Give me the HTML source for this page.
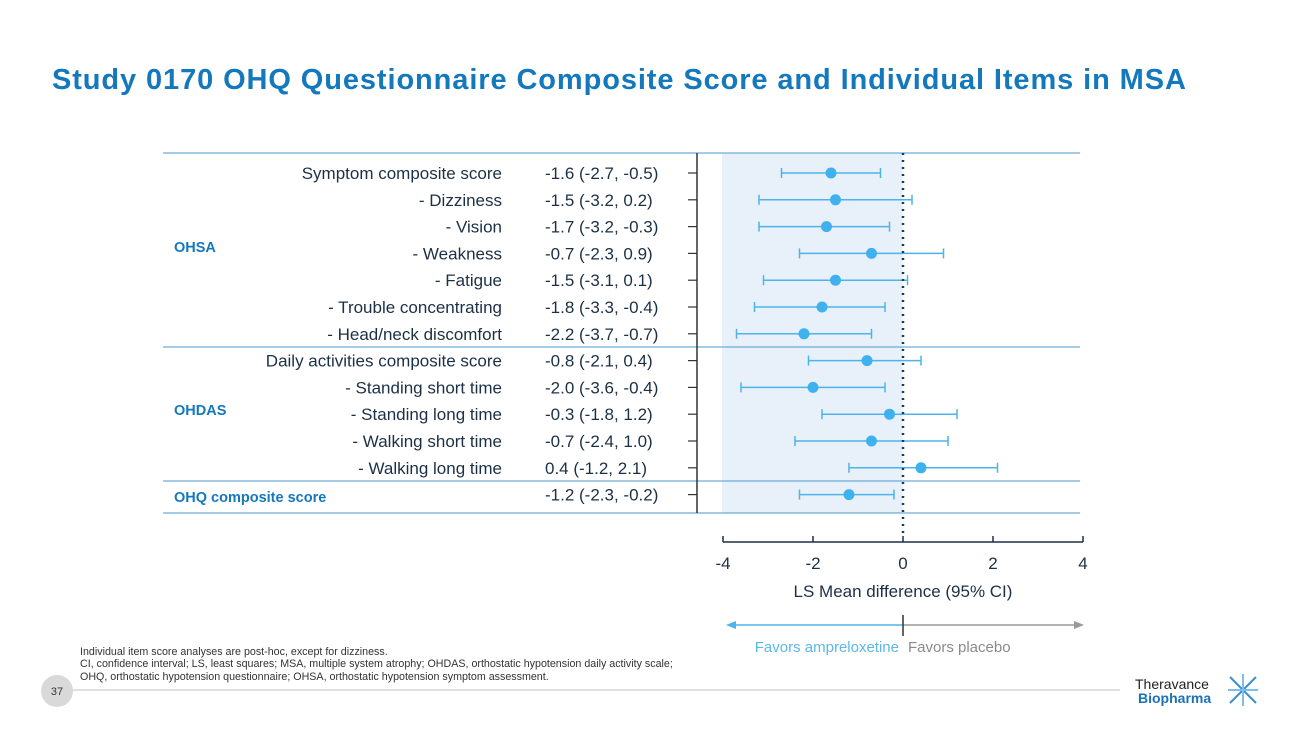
<!DOCTYPE html>
<html><head><meta charset="utf-8"><style>
body{margin:0;width:1300px;height:731px;background:#fff;font-family:"Liberation Sans",sans-serif;overflow:hidden}
svg{position:absolute;left:0;top:0}
</style></head><body>
<svg id="s" width="1300" height="731">
<text x="52" y="89" font-size="29" font-weight="bold" letter-spacing="0.9" fill="#1478bd">Study 0170 OHQ Questionnaire Composite Score and Individual Items in MSA</text>
<rect x="722" y="153" width="181" height="360" fill="#e8f1fa"/>
<g id="rows"></g>
<line x1="697" y1="153" x2="697" y2="513" stroke="#333" stroke-width="1.5"/>
<line x1="903" y1="153" x2="903" y2="537" stroke="#1c3a50" stroke-width="2.5" stroke-dasharray="2,5"/>
<g id="axis"></g>
<text x="903" y="597" font-size="17" fill="#1c3045" text-anchor="middle">LS Mean difference (95% CI)</text>
<line x1="730" y1="625" x2="903" y2="625" stroke="#4db3ea" stroke-width="1.5"/>
<polygon points="726,625 736,621 736,629" fill="#4db3ea"/>
<line x1="903" y1="625" x2="1078" y2="625" stroke="#999" stroke-width="1.5"/>
<polygon points="1084,625 1074,621 1074,629" fill="#999"/>
<line x1="903" y1="615" x2="903" y2="636" stroke="#333" stroke-width="1.5"/>
<text x="899" y="652" font-size="15" fill="#5cb8ea" text-anchor="end">Favors ampreloxetine</text>
<text x="908" y="652" font-size="15" fill="#8a8a8a">Favors placebo</text>
<g font-size="10.7" fill="#333">
<text x="80" y="655">Individual item score analyses are post-hoc, except for dizziness.</text>
<text x="80" y="667">CI, confidence interval; LS, least squares; MSA, multiple system atrophy; OHDAS, orthostatic hypotension daily activity scale;</text>
<text x="80" y="680">OHQ, orthostatic hypotension questionnaire; OHSA, orthostatic hypotension symptom assessment.</text>
</g>
<line x1="73" y1="690" x2="1120" y2="690" stroke="#d5d5d5" stroke-width="1.5"/>
<circle cx="57" cy="691" r="16" fill="#d9d9d9"/>
<text x="57" y="695" font-size="11" fill="#333" text-anchor="middle">37</text>
<text x="1135" y="689" font-size="14" fill="#222">Theravance</text>
<text x="1138" y="703" font-size="14" font-weight="bold" fill="#1a72b8">Biopharma</text>
<g stroke="#3b8fd0" stroke-width="2">
<line x1="1230" y1="677" x2="1256" y2="703"/><line x1="1256" y1="677" x2="1230" y2="703"/>
<line x1="1243" y1="674" x2="1243" y2="706" stroke="#7cc0ea"/><line x1="1228" y1="690" x2="1258" y2="690" stroke="#7cc0ea"/>
</g>
</svg>
<script>
const labels=["Symptom composite score","- Dizziness","- Vision","- Weakness","- Fatigue","- Trouble concentrating","- Head/neck discomfort","Daily activities composite score","- Standing short time","- Standing long time","- Walking short time","- Walking long time",""];
const estimates=[-1.6,-1.5,-1.7,-0.7,-1.5,-1.8,-2.2,-0.8,-2.0,-0.3,-0.7,0.4,-1.2];
const lowerCI=[-2.7,-3.2,-3.2,-2.3,-3.1,-3.3,-3.7,-2.1,-3.6,-1.8,-2.4,-1.2,-2.3];
const upperCI=[-0.5,0.2,-0.3,0.9,0.1,-0.4,-0.7,0.4,-0.4,1.2,1.0,2.1,-0.2];
const ticks=[-4,-2,0,2,4];
const groups=[{name:"OHSA",y:247},{name:"OHDAS",y:410},{name:"OHQ composite score",y:497}];
const NS="http://www.w3.org/2000/svg";
const X=v=>903+v*45;
const Y=i=>173+i*26.8;
const fmt=v=>v.toFixed(1);
function mk(t,a,p){const e=document.createElementNS(NS,t);for(const k in a)e.setAttribute(k,a[k]);p.appendChild(e);return e;}
const rows=document.getElementById('rows');
[153,347,481,513].forEach(y=>{
 const l=mk('line',{x1:163,y1:y,x2:1080,y2:y,stroke:'#4a9ad0','stroke-width':1},rows);
 
 
});
groups.forEach(g=>{
 const t=mk('text',{x:174,y:g.y+5,'font-size':14.5,'font-weight':'bold',fill:'#1478bd'},rows);t.textContent=g.name;
 
 
});
estimates.forEach((v,i)=>{
 const y=Y(i);
 if(labels[i]){const t=mk('text',{x:502,y:y+6,'font-size':17,fill:'#1c3045','text-anchor':'end'},rows);t.textContent=labels[i];
 
 }
 const c=mk('text',{x:545,y:y+6,'font-size':17,fill:'#1c3045'},rows);c.textContent=fmt(v)+" ("+fmt(lowerCI[i])+", "+fmt(upperCI[i])+")";
 
 
 const tk=mk('line',{x1:688,y1:y,x2:697,y2:y,stroke:'#333','stroke-width':1.2},rows);
 
 
 const g=mk('g',{stroke:'#4db3ea','stroke-width':1.5},rows);
 
 
 mk('line',{x1:X(lowerCI[i]),y1:y,x2:X(upperCI[i]),y2:y},g);
 mk('line',{x1:X(lowerCI[i]),y1:y-5,x2:X(lowerCI[i]),y2:y+5},g);
 mk('line',{x1:X(upperCI[i]),y1:y-5,x2:X(upperCI[i]),y2:y+5},g);
 const d=mk('circle',{cx:X(v),cy:y,r:5.5,fill:'#3fb1ee'},rows);
 
 
});
const ax=document.getElementById('axis');
mk('line',{x1:X(-4),y1:542,x2:X(4),y2:542,stroke:'#1c3045','stroke-width':1.5},ax);
ticks.forEach(t=>{
 const l=mk('line',{x1:X(t),y1:536,x2:X(t),y2:542,stroke:'#1c3045','stroke-width':1.5},ax);
 
 
 const tx=mk('text',{x:X(t),y:569,'font-size':17,fill:'#1c3045','text-anchor':'middle'},ax);tx.textContent=t;
 
 
});
</script>
</body></html>
